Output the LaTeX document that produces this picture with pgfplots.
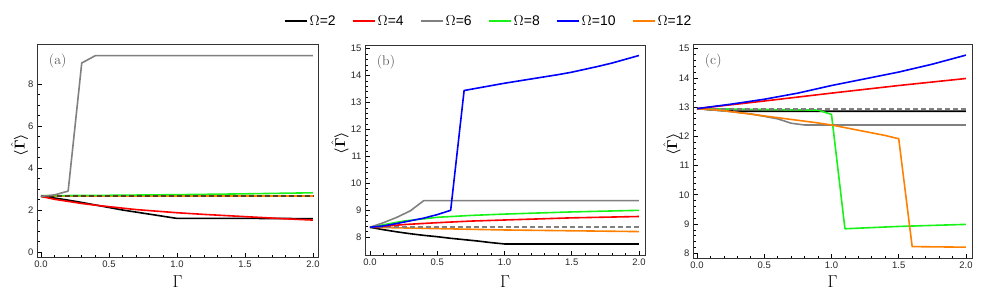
\documentclass[border=0pt]{standalone}
\usepackage{pgfplots}
\pgfplotsset{compat=1.18}
\usepackage{fontspec}
\usepackage{bm}
\setsansfont{Liberation Sans}
\definecolor{mgreen}{rgb}{0.1,0.95,0.1}
\definecolor{morange}{rgb}{1,0.5,0}
\definecolor{mgray}{rgb}{0.5,0.5,0.5}
\definecolor{dbrown}{rgb}{0.35,0.25,0.12}
\pgfplotsset{
  mystyle/.style={
    scale only axis,
    anchor=south west,
    axis line style={black!80, line width=1bp},
    tick align=inside,
    xtick pos=bottom, ytick pos=left,
    major tick length=4.5bp, minor tick length=2.5bp,
    every tick/.style={black, line width=0.8bp},
    xtick={0,0.5,1,1.5,2},
    minor x tick num=4,
    tick label style={font=\sffamily\fontsize{9.5}{11}\selectfont, black!85},
    /pgf/number format/assume math mode=true,
    xticklabel style={/pgf/number format/.cd, fixed, fixed zerofill, precision=1},
    yticklabel style={/pgf/number format/.cd, fixed, precision=0},
    xlabel={\fontsize{17}{17}\selectfont$\Gamma$},
    ylabel={\fontsize{14}{14}\selectfont$\bm{\langle\hat{\Gamma}\rangle}$},
    every axis plot/.append style={line width=1.6bp, line join=round},
    legend image code/.code={\draw[#1, line width=2bp] (0bp,0bp) -- (22bp,0bp);},
  }
}
\tikzset{mydash/.style={line width=2bp, dash pattern=on 5bp off 3bp}}
\begin{document}
\begin{tikzpicture}
\path[use as bounding box] (0,0) rectangle (996bp,-302bp);
% ---------------- (a)
\begin{axis}[mystyle,
  at={(37bp,-257bp)}, width=281bp, height=213bp,
  xmin=-0.029, xmax=2.037, ymin=-0.238, ymax=9.905,
  ytick={0,2,4,6,8}, minor y tick num=3,
  xlabel style={at={(axis description cs:0.5,-0.117)}, anchor=center},
  ylabel style={at={(axis description cs:-0.062,0.526)}, anchor=center},
]
\addplot[morange] coordinates {(0,2.68)(2,2.68)};
\addplot[mgreen] coordinates {(0,2.68)(0.5,2.7)(1.0,2.73)(1.5,2.77)(2.0,2.82)};
\addplot[dbrown, mydash] coordinates {(0,2.68)(2,2.68)};
\addplot[black] coordinates {(0,2.65)(0.1,2.57)(0.2,2.47)(0.3,2.36)(0.4,2.24)(0.5,2.12)(0.6,2.0)(0.7,1.9)(0.8,1.8)(0.9,1.7)(1.0,1.6)(1.5,1.6)(2.0,1.59)};
\addplot[red] coordinates {(0,2.65)(0.1,2.51)(0.2,2.41)(0.3,2.31)(0.4,2.23)(0.5,2.16)(0.6,2.09)(0.7,2.02)(0.8,1.97)(0.9,1.92)(1.0,1.87)(1.2,1.79)(1.4,1.72)(1.6,1.65)(1.8,1.58)(2.0,1.52)};
\addplot[mgray] coordinates {(0,2.65)(0.1,2.72)(0.2,2.9)(0.3,9.0)(0.4,9.35)(2.0,9.35)};
\node[anchor=west, font=\fontsize{14}{16}\selectfont, text=black!65] at (axis description cs:0.03,0.92) {(a)};
\end{axis}
% ---------------- (b)
\begin{axis}[mystyle,
  at={(365bp,-255bp)}, width=280bp, height=210bp,
  xmin=-0.037, xmax=2.045, ymin=7.34, ymax=15.14,
  ytick={8,...,15}, minor y tick num=4,
  xlabel style={at={(axis description cs:0.5,-0.127)}, anchor=center},
  ylabel style={at={(axis description cs:-0.089,0.533)}, anchor=center},
  legend columns=6,
  legend style={draw=none, fill=none, at={(axis description cs:0.441,1.114)}, anchor=center,
    font=\sffamily\fontsize{14}{16}\selectfont, inner sep=0pt,
    /tikz/every even column/.append style={column sep=14bp}},
]
\addlegendimage{black}
\addlegendimage{red}
\addlegendimage{mgray}
\addlegendimage{mgreen}
\addlegendimage{blue}
\addlegendimage{morange}
\legend{$\Omega$=2,$\Omega$=4,$\Omega$=6,$\Omega$=8,$\Omega$=10,$\Omega$=12}
\addplot[black, forget plot] coordinates {(0,8.37)(0.1,8.28)(0.2,8.2)(0.3,8.13)(0.4,8.07)(0.5,8.02)(0.6,7.96)(0.7,7.91)(0.8,7.86)(0.9,7.8)(1.0,7.75)(2.0,7.75)};
\addplot[morange, forget plot] coordinates {(0,8.37)(0.5,8.32)(1.0,8.27)(1.5,8.24)(2.0,8.21)};
\addplot[mgray, mydash, forget plot] coordinates {(0,8.37)(2,8.37)};
\addplot[red, forget plot] coordinates {(0,8.37)(0.25,8.47)(0.5,8.54)(0.75,8.6)(1.0,8.64)(1.5,8.72)(2.0,8.77)};
\addplot[mgreen, forget plot] coordinates {(0,8.37)(0.25,8.6)(0.5,8.74)(0.75,8.81)(1.0,8.86)(1.5,8.94)(2.0,9.0)};
\addplot[mgray, forget plot] coordinates {(0,8.37)(0.1,8.54)(0.2,8.74)(0.3,8.98)(0.4,9.36)(2.0,9.36)};
\addplot[blue, forget plot] coordinates {(0,8.37)(0.1,8.42)(0.2,8.51)(0.3,8.61)(0.4,8.71)(0.5,8.84)(0.6,9.0)(0.7,13.45)(0.8,13.54)(0.9,13.63)(1.0,13.72)(1.1,13.8)(1.2,13.88)(1.3,13.96)(1.4,14.04)(1.5,14.13)(1.6,14.24)(1.7,14.35)(1.8,14.47)(1.9,14.61)(2.0,14.75)};
\node[anchor=west, font=\fontsize{14}{16}\selectfont, text=black!65] at (axis description cs:0.03,0.92) {(b)};
\end{axis}
% ---------------- (c)
\begin{axis}[mystyle,
  at={(693bp,-258bp)}, width=279bp, height=214bp,
  xmin=-0.03, xmax=2.045, ymin=7.84, ymax=15.16,
  ytick={8,...,15}, minor y tick num=4,
  xlabel style={at={(axis description cs:0.5,-0.112)}, anchor=center},
  ylabel style={at={(axis description cs:-0.075,0.53)}, anchor=center},
]
\addplot[black] coordinates {(0,12.95)(0.1,12.91)(0.2,12.88)(0.3,12.86)(2.0,12.86)};
\addplot[mgreen] coordinates {(0,12.95)(0.5,12.92)(0.9,12.9)(1.0,12.75)(1.1,8.84)(1.5,8.92)(2.0,8.99)};
\addplot[mgray, mydash] coordinates {(0,12.95)(2,12.95)};
\addplot[mgray] coordinates {(0,12.95)(0.2,12.87)(0.4,12.77)(0.6,12.6)(0.7,12.45)(0.8,12.39)(2.0,12.39)};
\addplot[morange] coordinates {(0,12.95)(0.1,12.92)(0.2,12.88)(0.3,12.82)(0.4,12.76)(0.5,12.7)(0.6,12.64)(0.7,12.58)(0.8,12.52)(0.9,12.46)(1.0,12.39)(1.1,12.3)(1.2,12.21)(1.3,12.12)(1.4,12.03)(1.5,11.92)(1.6,8.23)(2.0,8.21)};
\addplot[red] coordinates {(0,12.95)(0.5,13.21)(1.0,13.48)(1.5,13.74)(2.0,13.98)};
\addplot[blue] coordinates {(0,12.95)(0.25,13.1)(0.5,13.27)(0.75,13.48)(1.0,13.74)(1.25,13.97)(1.5,14.2)(1.75,14.47)(2.0,14.78)};
\node[anchor=west, font=\fontsize{14}{16}\selectfont, text=black!65] at (axis description cs:0.03,0.92) {(c)};
\end{axis}
\end{tikzpicture}
\end{document}
